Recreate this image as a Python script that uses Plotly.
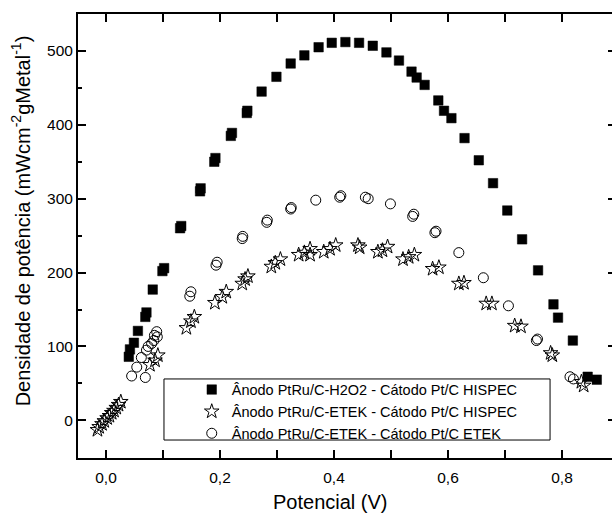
import plotly.graph_objects as go

# ---- data ----
sq_x = [0.040, 0.042, 0.049, 0.056, 0.069, 0.071, 0.082, 0.099, 0.102, 0.130, 0.132, 0.165, 0.166,
        0.190, 0.192, 0.219, 0.221, 0.247, 0.248, 0.273, 0.299, 0.324, 0.348, 0.373, 0.396, 0.420,
        0.444, 0.468, 0.492, 0.514, 0.536, 0.545, 0.559, 0.583, 0.593, 0.606, 0.629, 0.654, 0.679,
        0.704, 0.730, 0.758, 0.785, 0.793, 0.819, 0.845, 0.861]
sq_y = [86, 96, 105, 121, 140, 146, 177, 202, 206, 260, 263, 310, 314,
        350, 355, 385, 389, 416, 419, 445, 465, 483, 494, 505, 511, 512,
        511, 507, 498, 487, 472, 464, 454, 433, 419, 409, 382, 352, 321,
        284, 245, 203, 157, 139, 108, 59, 55]

st_x = [-0.015, -0.012, -0.007, -0.003, 0.002, 0.006, 0.010, 0.014, 0.018, 0.022, 0.026,
        0.077, 0.086, 0.091, 0.141, 0.149, 0.155, 0.191, 0.204, 0.211, 0.239, 0.244, 0.249,
        0.290, 0.297, 0.306, 0.338, 0.348, 0.358, 0.358, 0.382, 0.393, 0.403, 0.442, 0.445,
        0.477, 0.485, 0.494, 0.521, 0.531, 0.541, 0.573, 0.584, 0.619, 0.628, 0.667, 0.677,
        0.717, 0.728, 0.780, 0.783, 0.834, 0.838]
st_y = [-13, -9, -5, -1, 3, 6, 10, 13, 17, 21, 25,
        75, 81, 88, 125, 134, 140, 159, 167, 174, 185, 191, 195,
        208, 213, 218, 224, 227, 232, 224, 228, 232, 237, 237, 234,
        228, 230, 235, 218, 221, 224, 205, 207, 185, 186, 158, 158,
        128, 127, 91, 88, 52, 47]

ci_x = [0.045, 0.054, 0.062, 0.069, 0.071, 0.074, 0.080, 0.084, 0.085, 0.089, 0.090,
        0.147, 0.149, 0.193, 0.195, 0.239, 0.240, 0.282, 0.283, 0.324, 0.325, 0.368,
        0.410, 0.412, 0.455, 0.460, 0.499, 0.538, 0.540, 0.577, 0.579, 0.619, 0.662,
        0.706, 0.755, 0.757, 0.814, 0.820]
ci_y = [60, 72, 85, 58, 95, 100, 104, 108, 115, 120, 113,
        168, 174, 210, 214, 246, 249, 268, 271, 286, 288, 298,
        302, 304, 302, 300, 293, 276, 279, 254, 256, 227, 193,
        155, 108, 110, 59, 56]

names = ["Ânodo PtRu/C-H2O2 - Cátodo Pt/C HISPEC",
         "Ânodo PtRu/C-ETEK - Cátodo Pt/C HISPEC",
         "Ânodo PtRu/C-ETEK - Cátodo Pt/C ETEK"]

x_title = "Potencial (V)"
y_title = "Densidade de potência (mWcm<sup>-2</sup>gMetal<sup>-1</sup>)"

FONT = "Liberation Sans, Arial, Helvetica, sans-serif"

fig = go.Figure()
fig.add_trace(go.Scatter(x=sq_x, y=sq_y, mode="markers", name=names[0],
                         marker=dict(symbol="square", size=9.5, color="black",
                                     line=dict(color="black", width=0.5))))
fig.add_trace(go.Scatter(x=st_x, y=st_y, mode="markers", name=names[1],
                         marker=dict(symbol="star-open", size=11, color="black",
                                     line=dict(color="black", width=1))))
fig.add_trace(go.Scatter(x=ci_x, y=ci_y, mode="markers", name=names[2],
                         marker=dict(symbol="circle-open", size=10, color="black",
                                     line=dict(color="black", width=1))))
# empty trace to attach the right-hand tick axis
fig.add_trace(go.Scatter(x=[], y=[], yaxis="y2", showlegend=False, hoverinfo="skip"))

yr = [-51, 550]
fig.update_layout(
    width=612, height=513,
    margin=dict(l=78, r=0, t=14, b=55),
    paper_bgcolor="white", plot_bgcolor="white",
    separators=",.",
    font=dict(family=FONT, size=15, color="black"),
    showlegend=True,
    legend=dict(x=0.213, y=0.19, xanchor="left", yanchor="top",
                bgcolor="rgba(0,0,0,0)", borderwidth=0,
                font=dict(family=FONT, size=14.5, color="black"),
                tracegroupgap=0),
    xaxis=dict(range=[-0.0491, 0.8877], tick0=0, dtick=0.2, tickformat=".1f",
               ticks="inside", ticklen=8, tickwidth=1.5, tickcolor="black",
               showline=True, linewidth=2, linecolor="black", mirror="allticks",
               showgrid=False, zeroline=False, ticklabelstandoff=4,
               minor=dict(dtick=0.1, ticks="inside", ticklen=4, tickwidth=1.5,
                          tickcolor="black", showgrid=False),
               tickfont=dict(size=15.5)),
    yaxis=dict(range=yr, tick0=0, dtick=100,
               ticks="inside", ticklen=8, tickwidth=1.5, tickcolor="black",
               showline=True, linewidth=2, linecolor="black", mirror=False,
               showgrid=False, zeroline=False, ticklabelstandoff=0,
               minor=dict(dtick=50, ticks="inside", ticklen=4, tickwidth=1.5,
                          tickcolor="black", showgrid=False),
               tickfont=dict(size=15.5)),
    yaxis2=dict(range=yr, tick0=0, dtick=100, overlaying="y", side="right", anchor="x",
                ticks="inside", ticklen=4, tickwidth=1.5, tickcolor="black",
                showline=False, showgrid=False, zeroline=False, showticklabels=False),
    shapes=[dict(type="rect", xref="paper", yref="paper",
                 x0=0.161, x1=0.884, y0=0.0405, y1=0.178,
                 line=dict(color="black", width=1), fillcolor="rgba(0,0,0,0)")],
    annotations=[
        dict(text=x_title, xref="paper", yref="paper", x=0.472, y=-0.100,
             xanchor="center", yanchor="middle", showarrow=False,
             font=dict(family=FONT, size=20, color="black")),
        dict(text=y_title, xref="paper", yref="paper", x=-0.107, y=0.535,
             xanchor="center", yanchor="middle", textangle=-90, showarrow=False,
             font=dict(family=FONT, size=20, color="black")),
    ],
)

fig.write_html("out.html", config={"displayModeBar": False},
               post_script="document.body.style.margin='0';document.body.style.padding='0';")
